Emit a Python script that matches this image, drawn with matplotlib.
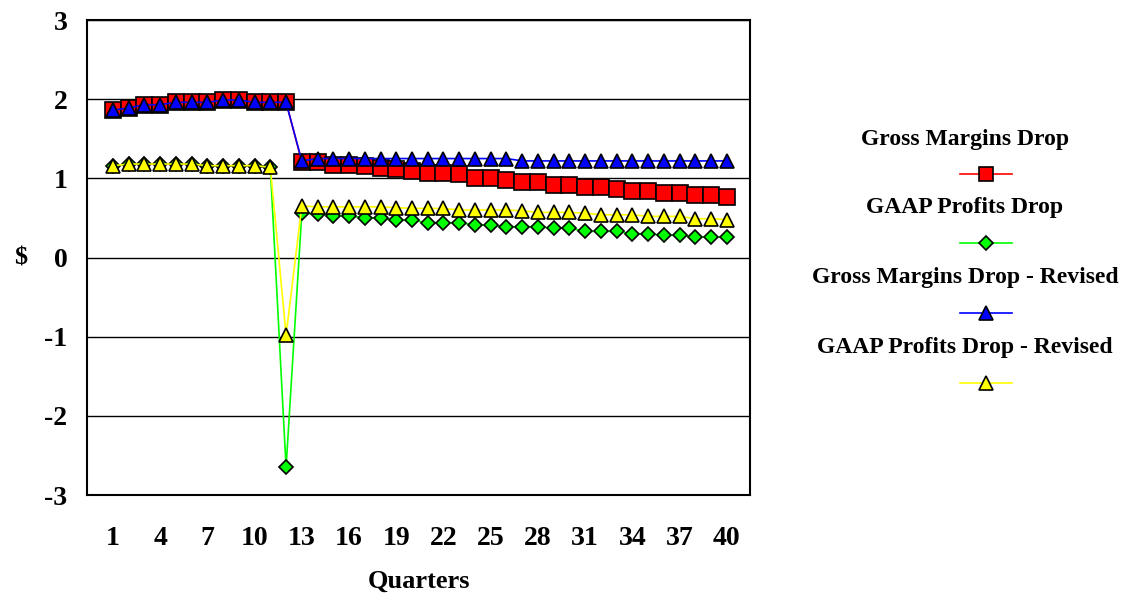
import numpy as np
import matplotlib
matplotlib.use('Agg')
import matplotlib.pyplot as plt
from matplotlib.lines import Line2D

quarters = np.arange(1, 41)

gross_margins = [1.86, 1.89, 1.93, 1.93, 1.96, 1.96, 1.96, 1.99, 1.99, 1.96,
                 1.96, 1.96, 1.21, 1.21, 1.17, 1.17, 1.15, 1.13, 1.12, 1.09,
                 1.07, 1.07, 1.05, 1.01, 1.01, 0.98, 0.96, 0.96, 0.92, 0.92,
                 0.89, 0.89, 0.86, 0.84, 0.84, 0.82, 0.82, 0.79, 0.79, 0.77]
gaap_profits = [1.16, 1.18, 1.18, 1.18, 1.18, 1.18, 1.16, 1.16, 1.16, 1.16,
                1.14, -2.65, 0.56, 0.55, 0.53, 0.53, 0.50, 0.50, 0.47, 0.47,
                0.44, 0.44, 0.44, 0.41, 0.41, 0.39, 0.39, 0.39, 0.37, 0.37,
                0.33, 0.33, 0.33, 0.30, 0.30, 0.28, 0.28, 0.26, 0.26, 0.26]
gross_margins_rev = [1.86, 1.89, 1.93, 1.93, 1.96, 1.96, 1.96, 1.99, 1.99, 1.96,
                     1.96, 1.96, 1.22, 1.25, 1.25, 1.25, 1.25, 1.25, 1.25, 1.25,
                     1.25, 1.25, 1.25, 1.25, 1.25, 1.25, 1.22, 1.22, 1.22, 1.22,
                     1.22, 1.22, 1.22, 1.22, 1.22, 1.22, 1.22, 1.22, 1.22, 1.22]
gaap_profits_rev = [1.16, 1.18, 1.18, 1.18, 1.18, 1.18, 1.16, 1.16, 1.16, 1.16,
                    1.14, -0.98, 0.65, 0.64, 0.64, 0.64, 0.64, 0.64, 0.63, 0.62,
                    0.62, 0.62, 0.60, 0.60, 0.60, 0.60, 0.59, 0.57, 0.57, 0.57,
                    0.56, 0.54, 0.54, 0.54, 0.52, 0.52, 0.52, 0.49, 0.49, 0.48]

series = [
    ('Gross Margins Drop', gross_margins, '#ff0000', 's', 11),
    ('GAAP Profits Drop', gaap_profits, '#00ff00', 'D', 7.5),
    ('Gross Margins Drop - Revised', gross_margins_rev, '#0000ff', '^', 10.5),
    ('GAAP Profits Drop - Revised', gaap_profits_rev, '#ffff00', '^', 10.5),
]

plt.rcParams['font.family'] = ['Liberation Serif', 'DejaVu Serif']
plt.rcParams['font.weight'] = 'bold'
plt.rcParams['axes.unicode_minus'] = False

fig = plt.figure(figsize=(11.25, 5.99), dpi=100)
ax = fig.add_axes([0.0773, 0.1736, 0.5897, 0.793])

for name, vals, col, mk, ms in series:
    ax.plot(quarters, vals, color=col, lw=1.2, marker=mk, ms=ms,
            markerfacecolor=col, markeredgecolor='black', markeredgewidth=1.2)

ax.set_xlim(-0.65, 41.5)
ax.set_ylim(-3, 3)
ax.set_yticks(range(-3, 4))
ax.set_xticks(quarters[::3])
ax.grid(axis='y', color='black', lw=1)
ax.set_axisbelow(True)
for s in ax.spines.values():
    s.set_linewidth(1.5)
ax.tick_params(length=0, labelsize=20, pad=14)
ax.tick_params(axis='x', pad=22)
ax.set_xlabel('Quarters', fontsize=19, fontweight='bold', labelpad=14)
ax.set_ylabel('$', fontsize=19, fontweight='bold', rotation=0, va='center', ha='center')
ax.yaxis.set_label_coords(-0.1, 0.5)

# legend: label above its sample line, Excel style
text_y = [140, 208, 278, 348]
sample_y = [174, 243, 313, 383]
W, H = 1125, 599
for (name, vals, col, mk, ms), ty, sy in zip(series, text_y, sample_y):
    fig.text(965 / W, 1 - ty / H, name, ha='center', va='center',
             fontsize=17, fontweight='bold')
    fig.add_artist(Line2D([960 / W, 1012 / W], [1 - sy / H, 1 - sy / H],
                          transform=fig.transFigure, color=col, lw=1.2))
    fig.add_artist(Line2D([986 / W], [1 - sy / H], transform=fig.transFigure,
                          marker=mk, ms=ms * 0.9, markerfacecolor=col,
                          markeredgecolor='black', markeredgewidth=1.2))

fig.savefig('out.png', dpi=100)
